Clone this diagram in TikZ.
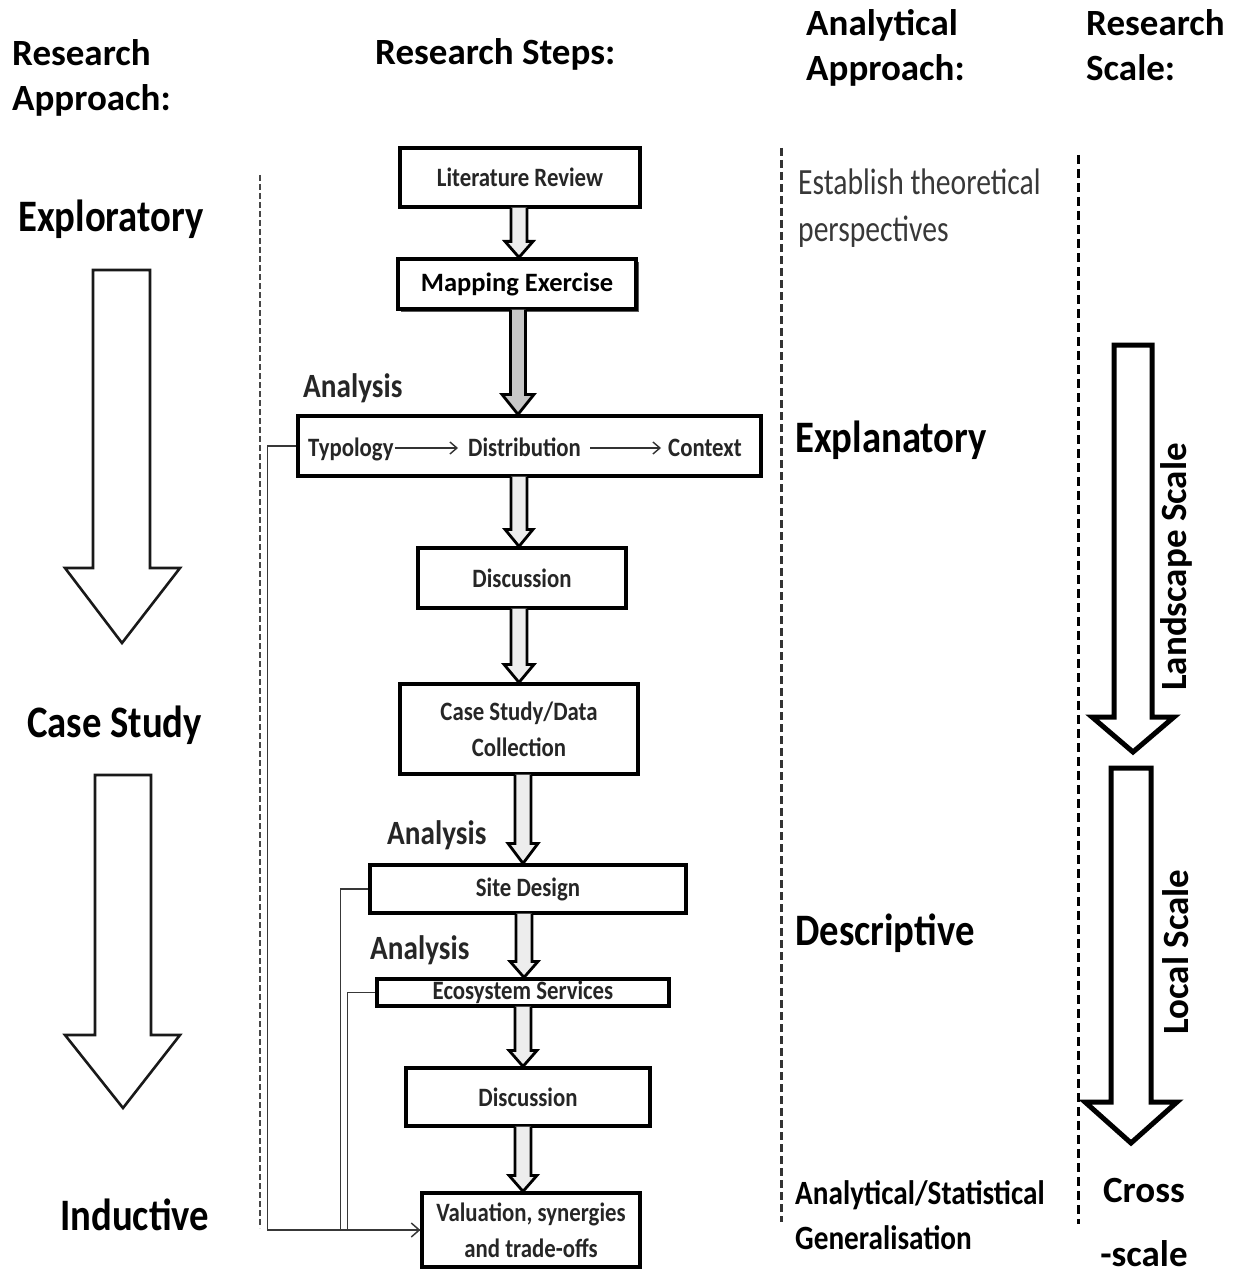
\documentclass[tikz,border=0pt]{standalone}
\usepackage{fontspec}
\setmainfont{Carlito}
\newfontfamily\narrowfont{Carlito}[FakeStretch=0.86]
\newfontfamily\slimfont{Carlito}[FakeStretch=0.80]
\usetikzlibrary{calc,arrows.meta,shadows}

% hollow block arrow from the bottom of one step box to the top of the next
% [style]{x}{from}{to}{shaft half width}{head half width}{head length}
\newcommand{\stepflow}[7][]{%
  \path[flowarrow,#1] let \p1=(#3.south), \p2=(#4.north), \p3=(#2,0) in
    ({\x3-#5},{\y1+1pt}) -- ({\x3-#5},{\y2+#7}) -- ({\x3-#6},{\y2+#7}) -- (\x3,\y2)
    -- ({\x3+#6},{\y2+#7}) -- ({\x3+#5},{\y2+#7}) -- ({\x3+#5},{\y1+1pt});}

\tikzset{
  hdr/.style={font=\bfseries\fontsize{37}{45}\selectfont, inner sep=0pt, anchor=base west},
  biglabel/.style={font=\narrowfont\bfseries\fontsize{45}{54}\selectfont, inner sep=0pt, anchor=base west},
  midlabel/.style={font=\narrowfont\bfseries\fontsize{34}{45}\selectfont, inner sep=0pt, anchor=base west},
  softlabel/.style={font=\slimfont\fontsize{37}{47}\selectfont, text=black!78, inner sep=0pt, anchor=base west},
  analysis/.style={font=\narrowfont\bfseries\fontsize{34}{40}\selectfont, text=black!85, inner sep=0pt, anchor=base west},
  scaletext/.style={font=\bfseries\fontsize{37}{45}\selectfont, inner sep=0pt},
  stepbox/.style={draw=black, line width=3.2pt, fill=white, inner sep=2pt, align=center,
    text=black!85, font=\narrowfont\bfseries\fontsize{26.5}{36}\selectfont},
  rowword/.style={font=\narrowfont\bfseries\fontsize{26.5}{32}\selectfont, text=black!85,
    inner sep=1pt, text height=20pt, text depth=4pt, anchor=base west},
  rowarrow/.style={line width=1.4pt, black!80, -{Straight Barb[length=7pt,width=12pt,line width=1.4pt]}},
  flowarrow/.style={draw=black, line width=2.8pt, fill=black!7, line join=miter},
  darkflow/.style={fill=black!22},
  feedback/.style={line width=1.5pt, black!78},
  bigarrow/.style={draw=black!90, line width=2.6pt, fill=white, line join=miter},
  scalearrow/.style={draw=black, line width=5pt, fill=white, line join=miter},
  septhin/.style={line width=1.8pt, black!72, dash pattern=on 6pt off 3pt},
  sepmid/.style={line width=3pt, black!80, dash pattern=on 8pt off 4pt},
  sepbold/.style={line width=3pt, black, dash pattern=on 9pt off 5pt},
}

\begin{document}
\begin{tikzpicture}[x=1pt, y=-1pt]
\useasboundingbox (0,0) rectangle (1241,1273);

% column headings
\node[hdr] (h1a) at (12,66) {Research};
\node[hdr] (h1b) at (12,111) {Approach:};
\node[hdr] (h2) at (375,65) {Research Steps:};
\node[hdr] (h3a) at (806,36) {Analytical};
\node[hdr] (h3b) at (806,81) {Approach:};
\node[hdr] (h4a) at (1086,36) {Research};
\node[hdr] (h4b) at (1086,81) {Scale:};

% column separators
\draw[septhin] (260,175) -- (260,1228);
\draw[sepmid] (781,148) -- (781,1222);
\draw[sepbold] (1078,155) -- (1078,1224);

% research approach column
\node[biglabel] (expl) at (18,232) {Exploratory};
\node[biglabel] (case) at (27,737) {Case Study};
\node[biglabel] (ind) at (60,1230) {Inductive};
\draw[bigarrow] (93,270) -- (93,568) -- (65,568) -- (122,643) -- (180,568) -- (150,568) -- (150,270) -- cycle;
\draw[bigarrow] (95,775) -- (95,1035) -- (65,1035) -- (123,1108) -- (180,1035) -- (151,1035) -- (151,775) -- cycle;

% research steps
\node[stepbox, minimum width=240pt, minimum height=59pt] (lit) at (520,177.5) {Literature Review};
\node[stepbox, minimum width=238pt, minimum height=50pt, text=black,
      font=\bfseries\fontsize{26.5}{32}\selectfont,
      drop shadow={shadow xshift=3pt, shadow yshift=-3pt, fill=black!65, opacity=1}]
      (map) at (517,284) {Mapping Exercise};
\node[stepbox, minimum width=463pt, minimum height=60pt] (typ) at (529.5,446) {};
\node[stepbox, minimum width=208pt, minimum height=60pt] (disc1) at (522,578) {Discussion};
\node[stepbox, minimum width=238pt, minimum height=90pt] (cs) at (519,729) {Case Study/Data\\Collection};
\node[stepbox, minimum width=316pt, minimum height=48pt] (site) at (528,889) {Site Design};
\node[stepbox, minimum width=292pt, minimum height=27pt, inner sep=0pt] (eco) at (523,992.5) {Ecosystem Services};
\node[stepbox, minimum width=244pt, minimum height=58pt] (disc2) at (528,1097) {Discussion};
\node[stepbox, minimum width=218pt, minimum height=74pt] (val) at (531,1230) {Valuation, synergies\\and trade-offs};

% analysis row inside the wide box
\node[rowword] (ty) at (307,456) {Typology};
\node[rowword] (di) at (467,456) {Distribution};
\node[rowword] (co) at (667,456) {Context};
\draw[rowarrow, shorten >=9pt] (ty.east) -- (di.west);
\draw[rowarrow, shorten <=8pt, shorten >=6pt] (di.east) -- (co.west);

% analysis labels
\node[analysis] (an1) at (303,397) {Analysis};
\node[analysis] (an2) at (387,844) {Analysis};
\node[analysis] (an3) at (370,959) {Analysis};

% flow between the steps
\stepflow{519}{lit}{map}{8pt}{14pt}{16pt}
\stepflow[darkflow]{518}{map}{typ}{7.5pt}{16pt}{20pt}
\stepflow{519}{typ}{disc1}{8pt}{14pt}{17pt}
\stepflow{519}{disc1}{cs}{8pt}{15pt}{18pt}
\stepflow{523}{cs}{site}{8pt}{15pt}{20pt}
\stepflow{524}{site}{eco}{8pt}{14pt}{16pt}
\stepflow{523}{eco}{disc2}{8pt}{14pt}{16pt}
\stepflow{523}{disc2}{val}{8pt}{14pt}{16pt}

% feedback links into the valuation step
\draw[feedback] (site.west) -- ++(-28,0) |- (val.west);
\draw[feedback] (eco.west) -- ++(-28,0) |- (val.west);
\draw[feedback, -{Straight Barb[length=8pt,width=14pt,line width=1.5pt]}] (typ.west) -- ++(-29,0) |- (val.west);

% analytical approach column
\node[softlabel] (est1) at (798,195) {Establish theoretical};
\node[softlabel] (est2) at (798,242) {perspectives};
\node[biglabel] (expn) at (795,452) {Explanatory};
\node[biglabel] (desc) at (795,945) {Descriptive};
\node[midlabel] (gen1) at (795,1204) {Analytical/Statistical};
\node[midlabel] (gen2) at (795,1249) {Generalisation};

% research scale column
\draw[scalearrow] (1114,345) -- (1114,717) -- (1092,717) -- (1133,752) -- (1174,717) -- (1152,717) -- (1152,345) -- cycle;
\draw[scalearrow] (1111,768) -- (1111,1102) -- (1085,1102) -- (1131,1143) -- (1177,1102) -- (1151,1102) -- (1151,768) -- cycle;
\node[scaletext, rotate=90] (lsc) at (1176,567) {Landscape Scale};
\node[scaletext, rotate=90] (lcs) at (1176,952) {Local Scale};
\node[scaletext, anchor=base] (cr1) at (1144,1202) {Cross};
\node[scaletext, anchor=base] (cr2) at (1144,1266) {-scale};
\end{tikzpicture}
\end{document}
